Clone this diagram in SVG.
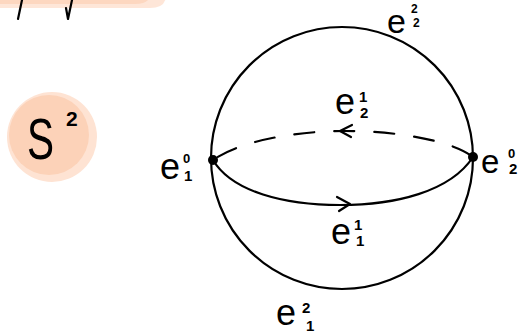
<svg xmlns="http://www.w3.org/2000/svg" width="522" height="335" viewBox="0 0 522 335">
<style>
.ln{fill:none;stroke:#000;stroke-width:2.2;stroke-linecap:round;stroke-linejoin:round}
.big{font-family:"Liberation Sans",Arial,sans-serif;font-size:36px;fill:#000}
.sm{font-family:"Liberation Sans",Arial,sans-serif;font-size:15px;font-weight:bold;fill:#000}
</style>
<rect width="522" height="335" fill="#fff"/>
<g id="top-fragment">
<path d="M0,-20 H150 Q166,-20 166,-5 Q166,8 150,8 H0 Z" fill="#fee6d8"/>
<path d="M0,-20 H135 Q150,-20 150,-6 Q150,4 135,4 H0 Z" fill="#fdd7c0"/>
<path class="ln" d="M22,0 L18,19" stroke-width="3"/>
<path class="ln" d="M72,0 L68,19 L66,8" stroke-width="3"/>
</g>
<g id="S2">
<circle cx="52" cy="137" r="45" fill="#fee3d3"/>
<circle cx="49" cy="135" r="40" fill="#fcd2b8"/>
<text class="big" x="27" y="159" style="font-size:58px" textLength="27" lengthAdjust="spacingAndGlyphs">S</text>
<text class="sm" x="66" y="126" style="font-size:21px">2</text>
</g>
<g id="connectors">
<circle class="ln" cx="342" cy="158" r="131"/>
<path class="ln" d="M213,160 C232,192 285,205 340,205 C395,205 450,192 473,157"/>
<path class="ln" d="M337,197 L350,204 L339,211"/>
<path class="ln" d="M213,160 C240,141 295,131 345,131 C400,131 452,141 473,157" stroke-dasharray="20,20" stroke-dashoffset="-6"/>
<path class="ln" d="M352,125 L340,131 L351,137"/>
</g>
<g id="e10">
<circle cx="213" cy="160" r="5"/>
<text class="big" x="160" y="179">e</text>
<text class="sm" x="183" y="163" style="font-size:13px">0</text>
<text class="sm" x="184" y="181">1</text>
</g>
<g id="e20">
<circle cx="473" cy="157" r="5"/>
<text class="big" x="481" y="173" style="font-size:33px">e</text>
<text class="sm" x="508" y="158" style="font-size:13px">0</text>
<text class="sm" x="509" y="174">2</text>
</g>
<g id="e21">
<text class="big" x="335" y="114">e</text>
<text class="sm" x="359" y="102">1</text>
<text class="sm" x="360" y="118">2</text>
</g>
<g id="e11">
<text class="big" x="331" y="244">e</text>
<text class="sm" x="354" y="230">1</text>
<text class="sm" x="356" y="246">1</text>
</g>
<g id="e12">
<text class="big" x="276" y="325">e</text>
<text class="sm" x="302" y="313">2</text>
<text class="sm" x="306" y="331">1</text>
</g>
<g id="e22">
<text class="big" x="387" y="33" style="font-size:34px">e</text>
<text class="sm" x="411" y="13" style="font-size:12px">2</text>
<text class="sm" x="413" y="27" style="font-size:12px">2</text>
</g>
</svg>
